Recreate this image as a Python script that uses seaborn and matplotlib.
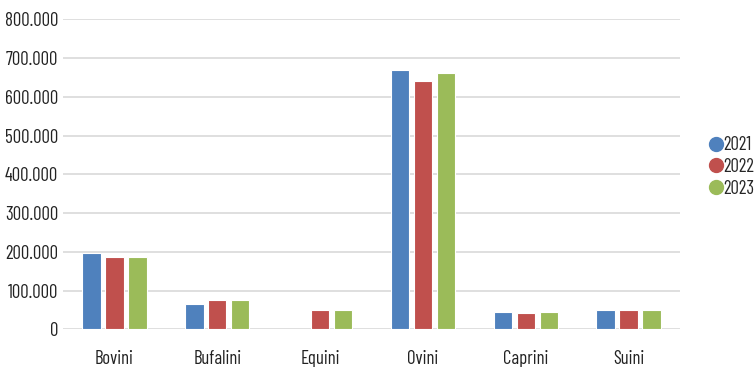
import numpy as np
import pandas as pd
import matplotlib
matplotlib.use("Agg")
import matplotlib.pyplot as plt
from matplotlib.lines import Line2D
from matplotlib.ticker import FuncFormatter
import seaborn as sns

categories = ["Bovini", "Bufalini", "Equini", "Ovini", "Caprini", "Suini"]
years = ["2021", "2022", "2023"]
values_2021 = [197000, 66000, np.nan, 669000, 45000, 51000]
values_2022 = [187000, 77000, 51000, 642000, 43000, 50000]
values_2023 = [187000, 77000, 51000, 662000, 45000, 51000]
colors = ["#4f81bd", "#c0504d", "#9bbb59"]

df = pd.DataFrame({
    "categoria": categories * 3,
    "anno": [y for y in years for _ in categories],
    "valore": values_2021 + values_2022 + values_2023,
})

sns.set_theme(style="white")
plt.rcParams["font.family"] = ["Barlow Condensed", "DejaVu Sans"]

fig = plt.figure(figsize=(7.54, 3.67), dpi=100)
ax = fig.add_axes([0.0836, 0.1022, 0.8183, 0.8447])

sns.barplot(data=df, x="categoria", y="valore", hue="anno", order=categories,
            hue_order=years, palette=colors, width=0.67, gap=0.2,
            edgecolor="white", linewidth=0.8, saturation=1, ax=ax, legend=False)

ax.set_ylim(0, 800000)
ax.set_xlim(-0.5, len(categories) - 0.5)
ax.set_yticks(np.arange(0, 800001, 100000))
ax.yaxis.set_major_formatter(FuncFormatter(lambda v, p: f"{int(v):,}".replace(",", ".")))
ax.grid(axis="y", color="#d9d9d9", linewidth=1.2)
ax.set_axisbelow(True)
for s in ax.spines.values():
    s.set_visible(False)
ax.set_xlabel("")
ax.set_ylabel("")
ax.tick_params(axis="y", labelsize=13.5, colors="#222222", length=0, pad=3.5)
ax.tick_params(axis="x", labelsize=13.5, colors="#222222", length=0, pad=15)

handles = [Line2D([0], [0], marker="o", linestyle="", markersize=10,
                  markerfacecolor=c, markeredgecolor=c) for c in colors]
fig.legend(handles, years, loc="center left", bbox_to_anchor=(0.937, 0.545),
           frameon=False, fontsize=13.5, handletextpad=-0.1, labelspacing=0.2,
           handlelength=1.0, borderpad=0, borderaxespad=0)

fig.savefig("out.png", dpi=100)
